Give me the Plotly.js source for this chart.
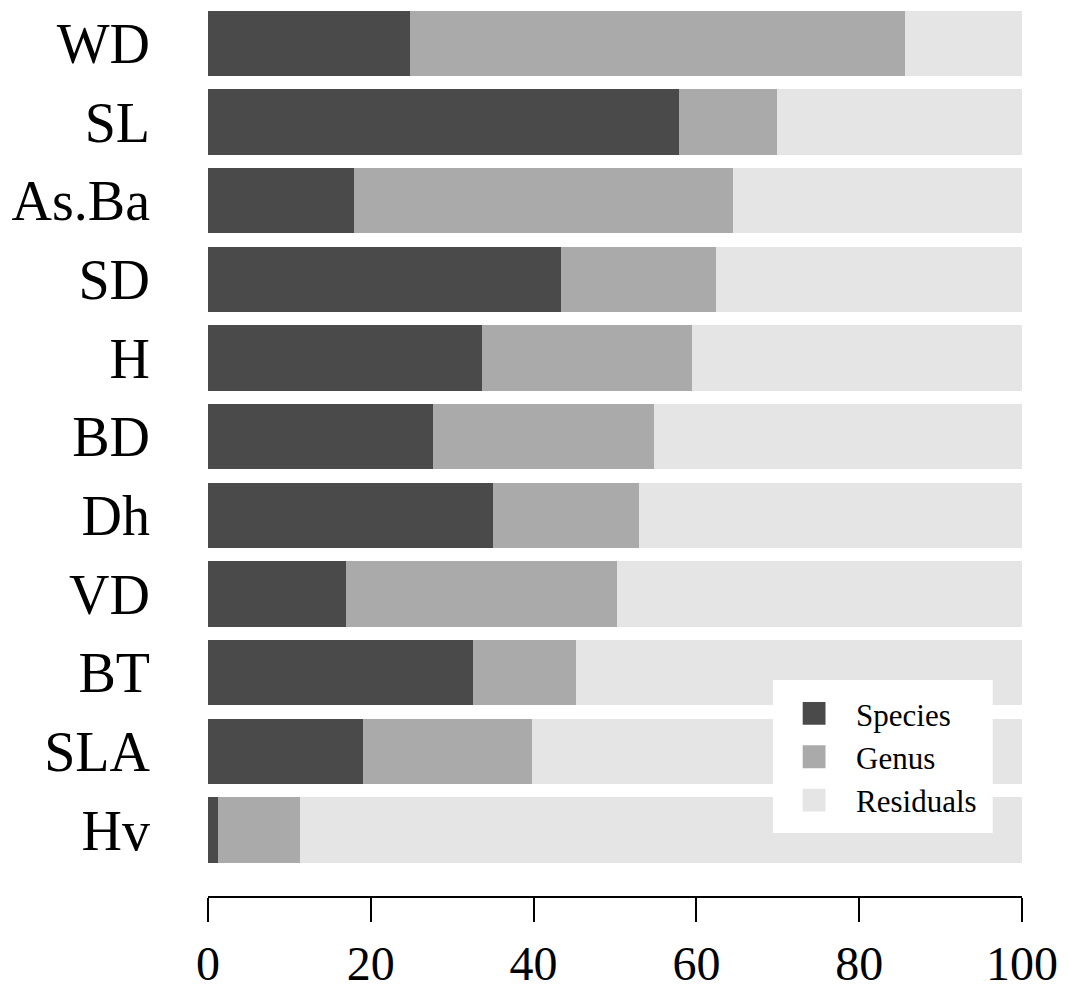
<!DOCTYPE html>
<html>
<head>
<meta charset="utf-8">
<script src="https://cdn.plot.ly/plotly-3.0.1.min.js"></script>
<style>html,body{margin:0;padding:0;background:#fff;}#chart{width:1068px;height:990px;}</style>
</head>
<body>
<div id="chart"></div>
<script>
const traits = ["WD","SL","As.Ba","SD","H","BD","Dh","VD","BT","SLA","Hv"];
const species   = [24.8, 57.9, 17.9, 43.4, 33.7, 27.6, 35.0, 17.0, 32.6, 19.0, 1.2];
const genus     = [60.8, 12.0, 46.6, 19.0, 25.7, 27.2, 17.9, 33.2, 12.6, 20.8, 10.1];
const residuals = [14.4, 30.1, 35.5, 37.6, 40.6, 45.2, 47.1, 49.8, 54.8, 60.2, 88.7];
const xTicks = [0, 20, 40, 60, 80, 100];

const serif = "Liberation Serif, Times New Roman, serif";
const mk = (name, vals, color) => ({
  type: "bar", orientation: "h", name: name, x: vals, y: traits,
  marker: {color: color, line: {width: 0}}, hoverinfo: "x+name"
});
const data = [
  mk("Species", species, "#4a4a4a"),
  mk("Genus", genus, "#aaaaaa"),
  mk("Residuals", residuals, "#e5e5e5")
];
const layout = {
  width: 1068, height: 990,
  margin: {l: 208, r: 46, t: 4, b: 93},
  paper_bgcolor: "#fff", plot_bgcolor: "#fff",
  barmode: "stack", bargap: 0.167,
  showlegend: true,
  xaxis: {
    range: [0, 100], tickvals: xTicks, ticktext: xTicks.map(String),
    anchor: "free", position: 0,
    showline: true, linecolor: "#000", linewidth: 2,
    ticks: "outside", ticklen: 24, tickwidth: 2, tickcolor: "#000",
    showgrid: false, zeroline: false,
    ticklabelstandoff: 0,
    tickfont: {family: serif, size: 48, color: "#000"}
  },
  yaxis: {
    domain: [0.031, 1],
    type: "category", range: [10.5, -0.5],
    showline: false, ticks: "", showgrid: false, zeroline: false,
    ticklabelstandoff: 57,
    tickfont: {family: serif, size: 56, color: "#000"}
  },
  shapes: [{
    type: "rect", xref: "paper", yref: "paper",
    x0: 0.694, x1: 0.964, y0: 0.0717, y1: 0.243,
    fillcolor: "#fff", line: {width: 0}, layer: "above"
  }],
  legend: {
    x: 0.693, xanchor: "left", y: 0.157, yanchor: "middle",
    bgcolor: "rgba(0,0,0,0)", borderwidth: 0,
    itemwidth: 74, traceorder: "normal",
    font: {family: serif, size: 31, color: "#000"}
  }
};
Plotly.newPlot("chart", data, layout, {staticPlot: true}).then(() => {
  document.querySelectorAll(".legend .legendpoints path").forEach(p => {
    const t = p.getAttribute("transform") || "";
    p.setAttribute("transform", t + " scale(1.9)");
  });
});
</script>
</body>
</html>
